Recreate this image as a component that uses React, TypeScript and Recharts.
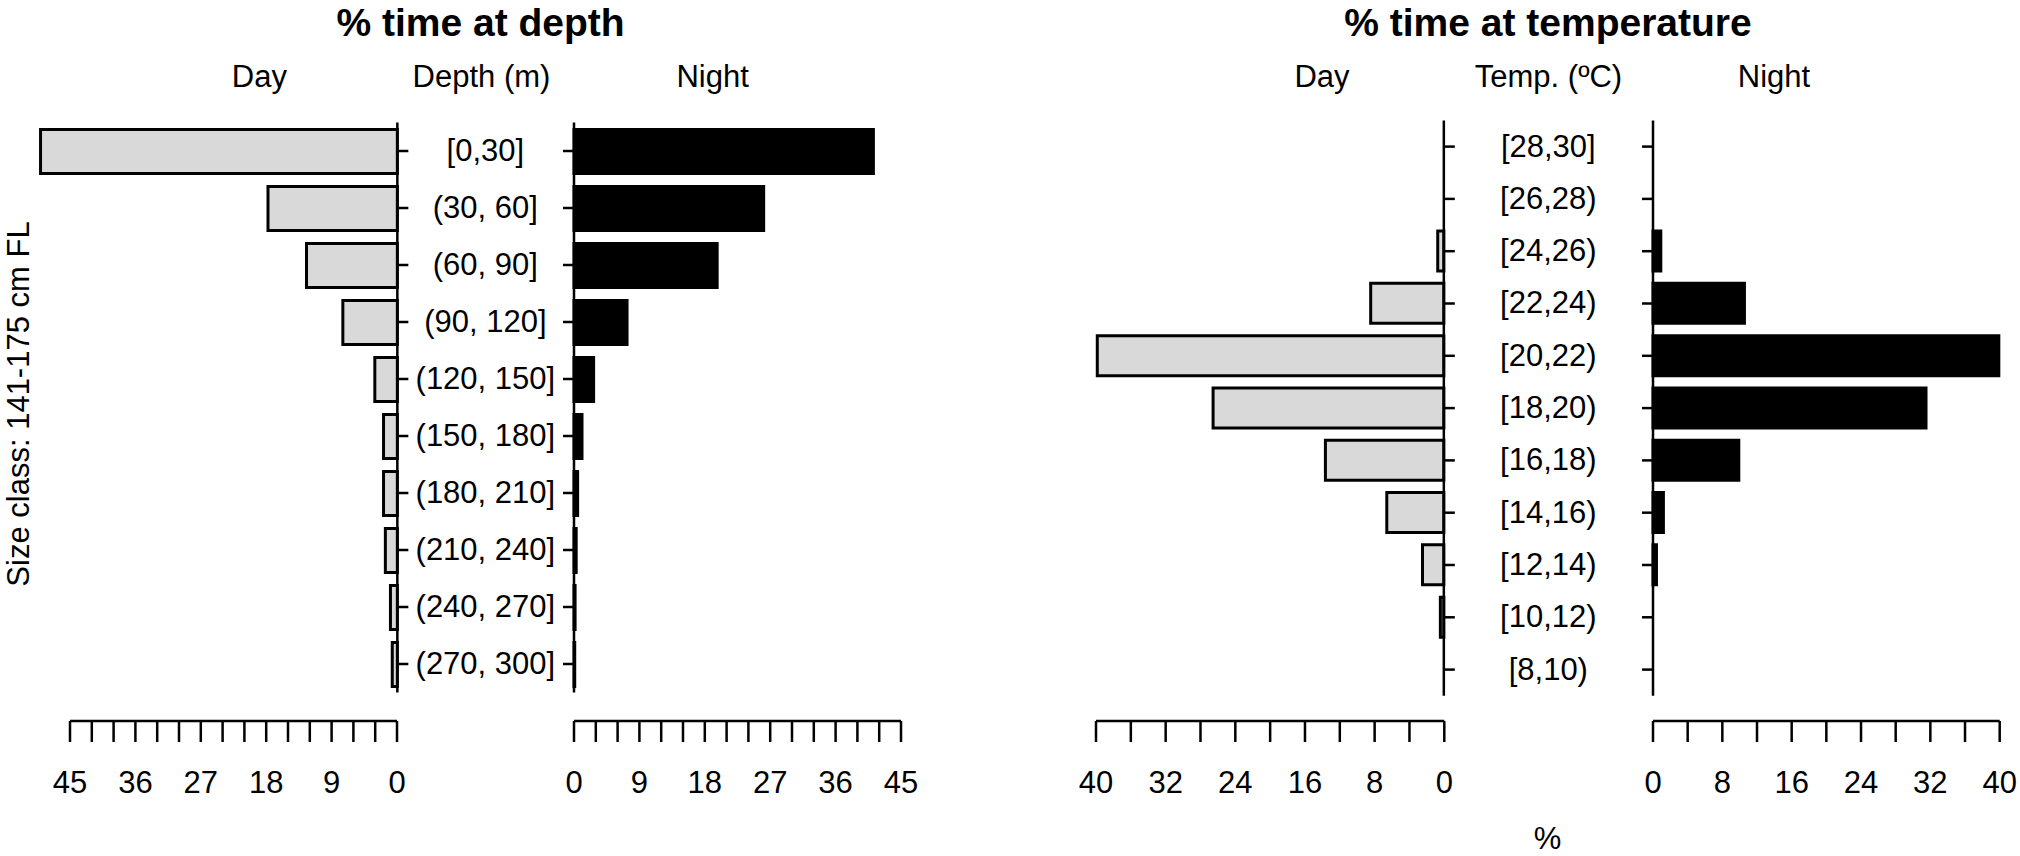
import React from 'react'
import { BarChart, Bar, XAxis, YAxis } from 'recharts'

// depth bins (m) and % time
const DEPTH_BINS = ['[0,30]', '(30, 60]', '(60, 90]', '(90, 120]', '(120, 150]', '(150, 180]', '(180, 210]', '(210, 240]', '(240, 270]', '(270, 300]']
const DEPTH_DAY = [49.1, 17.8, 12.5, 7.5, 3.1, 1.9, 1.9, 1.65, 0.95, 0.7]
const DEPTH_NIGHT = [41.2, 26.1, 19.7, 7.3, 2.7, 1.1, 0.5, 0.3, 0.15, 0.1]
const DEPTH_TICKS = [0, 3, 6, 9, 12, 15, 18, 21, 24, 27, 30, 33, 36, 39, 42, 45]
const DEPTH_TICK_LABELS = [0, 9, 18, 27, 36, 45]

// temperature bins (ºC)
const TEMP_BINS = ['[28,30]', '[26,28)', '[24,26)', '[22,24)', '[20,22)', '[18,20)', '[16,18)', '[14,16)', '[12,14)', '[10,12)', '[8,10)']
const TEMP_DAY = [0, 0, 0.7, 8.4, 39.8, 26.5, 13.6, 6.55, 2.45, 0.4, 0]
const TEMP_NIGHT = [0, 0, 0.9, 10.55, 39.9, 31.5, 9.9, 1.2, 0.4, 0, 0]
const TEMP_TICKS = [0, 4, 8, 12, 16, 20, 24, 28, 32, 36, 40]
const TEMP_TICK_LABELS = [0, 8, 16, 24, 32, 40]

const FONT = '"Liberation Sans", Arial, Helvetica, sans-serif'
const FS = 31
const LW = 2.5
const DAY_FILL = '#d9d9d9'
const NIGHT_FILL = '#000000'

interface Row { bin: string; value: number }

const toRows = (bins: string[], vals: number[]): Row[] => bins.map((bin, i) => ({ bin, value: vals[i] }))

interface SideProps {
  data: Row[]
  side: 'day' | 'night'
  zeroX: number
  ppu: number
  barMax: number
  axisMax: number
  ticks: number[]
  tickLabels: number[]
  top: number
  band: number
  barSize: number
  labelX?: number
}

const lineStyle = { stroke: '#000', strokeWidth: LW }

function Side({ data, side, zeroX, ppu, barMax, axisMax, ticks, tickLabels, top, band, barSize, labelX }: SideProps) {
  const isDay = side === 'day'
  const plotW = barMax * ppu
  const plotH = band * data.length
  const yAxisW = isDay ? 180 : 40
  const pad = 4
  const chartLeft = isDay ? zeroX - plotW - pad : zeroX - yAxisW
  const chartW = pad + plotW + yAxisW
  const chartH = top + plotH + 10

  const axisW = axisMax * ppu
  const axisLeft = (isDay ? zeroX - axisW : zeroX) - 40

  return (
    <>
      <div style={{ position: 'absolute', left: chartLeft, top: 0 }}>
        <BarChart
          layout="vertical"
          width={chartW}
          height={chartH}
          data={data}
          margin={{ top, bottom: 10, left: isDay ? pad : 0, right: isDay ? 0 : pad }}
        >
          <XAxis type="number" domain={[0, barMax]} reversed={isDay} hide />
          <YAxis
            type="category"
            dataKey="bin"
            orientation={isDay ? 'right' : 'left'}
            width={yAxisW}
            interval={0}
            tickSize={11}
            axisLine={lineStyle}
            tickLine={lineStyle}
            tick={
              isDay && labelX != null
                ? (p: any) => (
                    <text
                      x={labelX - chartLeft}
                      y={p.y}
                      dy="0.32em"
                      textAnchor="middle"
                      fontSize={FS}
                      fontFamily={FONT}
                      fill="#000"
                    >
                      {p.payload.value}
                    </text>
                  )
                : () => <g />
            }
          />
          <Bar
            dataKey="value"
            fill={isDay ? DAY_FILL : NIGHT_FILL}
            stroke="#000"
            strokeWidth={3}
            barSize={barSize}
            isAnimationActive={false}
          />
        </BarChart>
      </div>
      <div style={{ position: 'absolute', left: axisLeft, top: 700 }}>
        <BarChart
          layout="vertical"
          width={axisW + 80}
          height={120}
          data={data}
          margin={{ top: 20, bottom: 0, left: 40, right: 40 }}
        >
          <XAxis
            type="number"
            domain={[0, axisMax]}
            allowDataOverflow
            reversed={isDay}
            ticks={ticks}
            interval={0}
            height={99}
            tickSize={21}
            tickMargin={29}
            axisLine={lineStyle}
            tickLine={lineStyle}
            tickFormatter={(v: number) => (tickLabels.includes(v) ? String(v) : '')}
            tick={{ fontSize: FS, fontFamily: FONT, fill: '#000' }}
          />
          <YAxis type="category" dataKey="bin" hide />
        </BarChart>
      </div>
    </>
  )
}

export default function App() {
  const depthDay = toRows(DEPTH_BINS, DEPTH_DAY)
  const depthNight = toRows(DEPTH_BINS, DEPTH_NIGHT)
  const tempDay = toRows(TEMP_BINS, TEMP_DAY)
  const tempNight = toRows(TEMP_BINS, TEMP_NIGHT)

  const txt = { fontFamily: FONT, fontSize: FS, fill: '#000' }
  const title = { fontFamily: FONT, fontSize: 39, fontWeight: 700, fill: '#000' }

  return (
    <div style={{ position: 'absolute', left: 0, top: 0, width: 2020, height: 856, background: '#fff', overflow: 'hidden' }}>
      <Side data={depthDay} side="day" zeroX={397.5} ppu={7.267} barMax={50} axisMax={45}
        ticks={DEPTH_TICKS} tickLabels={DEPTH_TICK_LABELS} top={122.5} band={57} barSize={44} labelX={485.5} />
      <Side data={depthNight} side="night" zeroX={573.5} ppu={7.267} barMax={50} axisMax={45}
        ticks={DEPTH_TICKS} tickLabels={DEPTH_TICK_LABELS} top={122.5} band={57} barSize={44} />
      <Side data={tempDay} side="day" zeroX={1444.3} ppu={8.7075} barMax={45} axisMax={40}
        ticks={TEMP_TICKS} tickLabels={TEMP_TICK_LABELS} top={120.45} band={52.3} barSize={40} labelX={1548.8} />
      <Side data={tempNight} side="night" zeroX={1653.3} ppu={8.6675} barMax={41.5} axisMax={40}
        ticks={TEMP_TICKS} tickLabels={TEMP_TICK_LABELS} top={120.45} band={52.3} barSize={40} />

      <svg width={2020} height={856} style={{ position: 'absolute', left: 0, top: 0, pointerEvents: 'none' }}>
        <text x={480.6} y={35.5} textAnchor="middle" {...title}>% time at depth</text>
        <text x={1548} y={35.5} textAnchor="middle" {...title}>% time at temperature</text>

        <text x={259.4} y={87.3} textAnchor="middle" {...txt}>Day</text>
        <text x={481.5} y={87.3} textAnchor="middle" {...txt}>Depth (m)</text>
        <text x={712.6} y={87.3} textAnchor="middle" {...txt}>Night</text>

        <text x={1322} y={87.3} textAnchor="middle" {...txt}>Day</text>
        <text x={1548.5} y={87.3} textAnchor="middle" {...txt}>Temp. (ºC)</text>
        <text x={1774} y={87.3} textAnchor="middle" {...txt}>Night</text>

        <text transform="translate(28.5,404) rotate(-90)" textAnchor="middle" {...txt}>Size class: 141-175 cm FL</text>
        <text x={1547.6} y={849} textAnchor="middle" {...txt}>%</text>
      </svg>
    </div>
  )
}
